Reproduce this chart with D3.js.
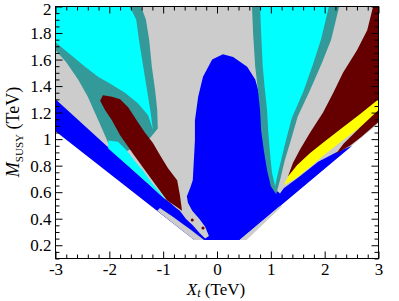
<!DOCTYPE html>
<html>
<head>
<meta charset="utf-8">
<script src="https://cdn.jsdelivr.net/npm/d3@7"></script>
<style>
body { margin: 0; background: #fff; }
svg { display: block; }
.axis text { font-family: 'Liberation Serif', 'DejaVu Serif', serif; font-size: 17px; fill: #000; }
.axis path { display: none; }
.axis line { stroke: #000; }
.lbl { font-family: 'Liberation Serif', 'DejaVu Serif', serif; fill: #000; }
</style>
</head>
<body>
<div id="chart-area"></div>
<script>
// region outlines, [Xt (TeV), M_SUSY (TeV)]
var grayRegion = [[-3,2],[3,2],[3,1.12],[0.42,0.24],[-0.42,0.24],[-3,1.06]];
var tealLeft = [[-3,2],[-1.41,2],[-1.32,1.90],[-1.26,1.75],[-1.21,1.545],[-1.15,1.37],[-1.11,1.22],[-1.10,1.08],[-1.24,1.01],[-1.47,0.96],[-1.71,0.90],[-1.99,0.90],[-3,1.22]];
var grayWedge = [[-3,1.67],[-2.80,1.58],[-2.58,1.45],[-2.40,1.32],[-2.27,1.20],[-2.17,1.11],[-2.02,0.97],[-1.95,0.92],[-3,1.18]];
var cyanLeft = [[-3,2],[-1.62,2],[-1.50,1.90],[-1.45,1.75],[-1.37,1.545],[-1.30,1.37],[-1.24,1.22],[-1.19,1.07],[-1.28,1.18],[-1.47,1.27],[-1.71,1.35],[-1.99,1.42],[-2.21,1.47],[-2.45,1.545],[-2.73,1.64],[-3,1.73]];
var blueRegion = [[-3,1.30],[-1.00,0.56],[-0.87,0.52],[-0.76,0.48],[-0.69,0.46],[-0.58,0.40],[-0.45,0.35],[-0.32,0.29],[-0.22,0.25],[-0.15,0.27],[-0.22,0.34],[-0.33,0.40],[-0.46,0.46],[-0.54,0.52],[-0.56,0.57],[-0.50,0.63],[-0.45,0.69],[-0.43,0.84],[-0.41,0.99],[-0.41,1.14],[-0.35,1.32],[-0.26,1.47],[-0.09,1.60],[0.11,1.64],[0.30,1.62],[0.56,1.545],[0.71,1.45],[0.80,1.32],[0.85,1.22],[0.85,1.07],[0.91,0.96],[0.97,0.84],[1.02,0.73],[1.08,0.62],[1.17,0.59],[1.24,0.63],[1.54,0.72],[1.88,0.83],[2.21,0.90],[2.51,0.95],[0.42,0.24],[-0.42,0.24],[-3,1.06]];
var tealRight = [[0.65,2],[2.27,2],[2.12,1.75],[1.95,1.575],[1.73,1.37],[1.50,1.17],[1.37,0.99],[1.26,0.84],[1.17,0.69],[1.10,0.585],[1.00,0.645],[0.93,0.765],[0.87,0.915],[0.82,1.065],[0.80,1.22],[0.76,1.37],[0.71,1.545],[0.67,1.80]];
var cyanRight = [[0.80,2],[2.08,2],[1.93,1.75],[1.78,1.56],[1.60,1.355],[1.39,1.16],[1.28,0.99],[1.19,0.84],[1.11,0.705],[1.08,0.645],[1.02,0.75],[0.98,0.915],[0.95,1.065],[0.93,1.22],[0.89,1.37],[0.85,1.545],[0.82,1.80]];
var cyanStrip = [[-2.02,0.99],[-1.84,0.98],[-1.69,0.92],[-1.54,0.84],[-1.37,0.76],[-1.21,0.67],[-1.06,0.60],[-0.95,0.54],[-1.00,0.56],[-1.24,0.65],[-1.52,0.75],[-1.80,0.85],[-2.02,0.93]];
var redLeft = [[-2.12,1.33],[-1.95,1.32],[-1.80,1.30],[-1.65,1.24],[-1.49,1.14],[-1.34,1.05],[-1.19,0.97],[-1.06,0.88],[-0.91,0.78],[-0.74,0.69],[-0.69,0.58],[-0.65,0.46],[-0.72,0.48],[-0.93,0.54],[-1.24,0.71],[-1.56,0.89],[-1.80,1.03],[-1.95,1.14],[-2.08,1.22],[-2.17,1.29]];
var redRight = [[2.90,2],[3,2],[3,1.28],[2.66,1.17],[2.29,1.05],[1.91,0.93],[1.54,0.80],[1.32,0.72],[1.41,0.82],[1.54,0.92],[1.73,1.05],[1.97,1.20],[2.16,1.35],[2.34,1.50],[2.60,1.67],[2.79,1.82]];
var yellowBand = [[3,1.30],[2.66,1.19],[2.34,1.09],[2.01,0.985],[1.73,0.895],[1.49,0.805],[1.34,0.73],[1.24,0.655],[1.45,0.70],[1.73,0.79],[2.00,0.885],[2.30,0.98],[2.66,1.09],[3,1.21]];
var redThin = [[3,1.22],[3,1.13],[2.69,1.02],[2.47,0.95],[2.21,0.89],[2.35,0.965],[2.66,1.09]];
var grayEdgeLeft = [[-1.11,0.46],[-0.42,0.24],[-0.24,0.24],[-0.50,0.32],[-0.84,0.42],[-1.06,0.48]];
var grayEdgeRight = [[0.42,0.24],[0.55,0.24],[1.22,0.50],[1.15,0.49]];
var redDots = [[-0.46,0.39],[-0.26,0.33]];

var xMajor = [-3,-2,-1,0,1,2,3];
var xLabels = ['-3','-2','-1','0','1','2','3'];
var yMajor = [0.2,0.4,0.6,0.8,1,1.2,1.4,1.6,1.8,2];
var yLabels = ['0.2','0.4','0.6','0.8','1','1.2','1.4','1.6','1.8','2'];

var width = 399;
var height = 301;

var svg = d3.select('#chart-area')
	.append('svg')
	.attr('width', width)
	.attr('height', height);

var x = d3.scaleLinear().domain([-3, 3]).range([55.5, 378.5]);
var y = d3.scaleLinear().domain([0.1, 2]).range([258.5, 6.5]);

var line = d3.line().x(d => x(d[0])).y(d => y(d[1]));

var layers = [
	{pts: grayRegion, fill: '#cccccc'},
	{pts: tealLeft, fill: '#339999'},
	{pts: grayWedge, fill: '#cccccc'},
	{pts: cyanLeft, fill: '#00ffff'},
	{pts: blueRegion, fill: '#0000ff'},
	{pts: tealRight, fill: '#339999'},
	{pts: cyanRight, fill: '#00ffff'},
	{pts: cyanStrip, fill: '#00ffff'},
	{pts: redLeft, fill: '#660000'},
	{pts: redRight, fill: '#660000'},
	{pts: yellowBand, fill: '#ffff00'},
	{pts: redThin, fill: '#660000'},
	{pts: grayEdgeLeft, fill: '#cccccc'},
	{pts: grayEdgeRight, fill: '#cccccc'}
];

svg.append('g')
	.selectAll('path')
	.data(layers)
	.enter()
		.append('path')
		.attr('d', d => line(d.pts) + 'Z')
		.attr('fill', d => d.fill);

svg.append('g')
	.selectAll('circle')
	.data(redDots)
	.enter()
		.append('circle')
		.attr('cx', d => x(d[0]))
		.attr('cy', d => y(d[1]))
		.attr('r', 1.5)
		.attr('fill', '#660000');

// ticks, pointing inward on all four sides
var xMinor = d3.range(-3, 3.001, 0.2).filter(v => Math.abs(v - Math.round(v)) > 1e-6);
var yMinor = d3.range(0.1, 2.001, 0.05).filter(v => Math.abs(v * 5 - Math.round(v * 5)) > 1e-6);

function addAxis(axis, tx, ty) {
	return svg.append('g')
		.attr('class', 'axis')
		.attr('transform', 'translate(' + tx + ',' + ty + ')')
		.call(axis);
}

addAxis(d3.axisBottom(x).tickValues(xMajor).tickSize(-7).tickPadding(4)
	.tickFormat((d, i) => xLabels[i]), 0, y.range()[0]);
addAxis(d3.axisBottom(x).tickValues(xMinor).tickSize(-4).tickFormat(''), 0, y.range()[0]);
addAxis(d3.axisTop(x).tickValues(xMajor).tickSize(-7).tickFormat(''), 0, y.range()[1]);
addAxis(d3.axisTop(x).tickValues(xMinor).tickSize(-4).tickFormat(''), 0, y.range()[1]);

addAxis(d3.axisLeft(y).tickValues(yMajor).tickSize(-7).tickPadding(4)
	.tickFormat((d, i) => yLabels[i]), x.range()[0], 0)
	.selectAll('text').attr('dy', (d, i) => i === yMajor.length - 1 ? '0.45em' : '0.32em');
addAxis(d3.axisLeft(y).tickValues(yMinor).tickSize(-4).tickFormat(''), x.range()[0], 0);
addAxis(d3.axisRight(y).tickValues(yMajor).tickSize(-7).tickFormat(''), x.range()[1], 0);
addAxis(d3.axisRight(y).tickValues(yMinor).tickSize(-4).tickFormat(''), x.range()[1], 0);

svg.append('rect')
	.attr('x', x.range()[0])
	.attr('y', y.range()[1])
	.attr('width', x.range()[1] - x.range()[0])
	.attr('height', y.range()[0] - y.range()[1])
	.attr('fill', 'none')
	.attr('stroke', '#000');

// axis titles
var xt = svg.append('text')
	.attr('class', 'lbl')
	.attr('x', 216)
	.attr('y', 295)
	.attr('text-anchor', 'middle')
	.attr('font-size', 17);
xt.append('tspan').attr('font-style', 'italic').text('X');
xt.append('tspan').attr('font-style', 'italic').attr('font-size', 12).attr('dy', 2).text('t');
xt.append('tspan').attr('dy', -2).text(' (TeV)');

var yt = svg.append('text')
	.attr('class', 'lbl')
	.attr('transform', 'translate(19,132) rotate(-90)')
	.attr('text-anchor', 'middle')
	.attr('font-size', 18);
yt.append('tspan').attr('font-style', 'italic').text('M');
yt.append('tspan').attr('font-size', 11).attr('dy', 4).text('SUSY');
yt.append('tspan').attr('dy', -4).text(' (TeV)');
</script>
</body>
</html>
